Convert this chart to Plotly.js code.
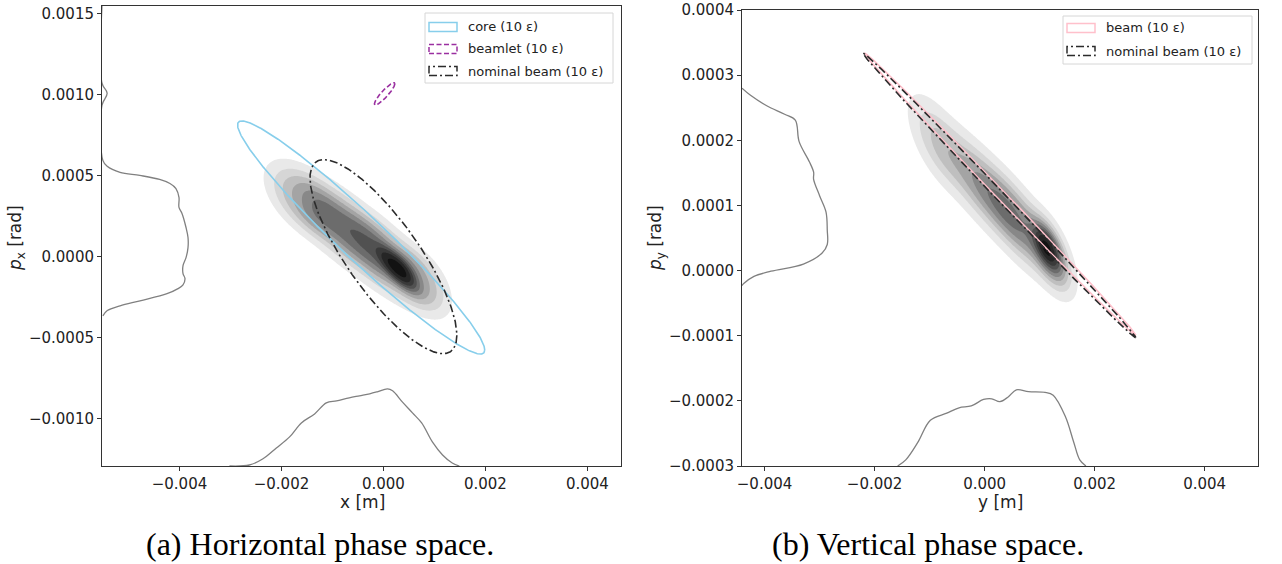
<!DOCTYPE html>
<html><head><meta charset="utf-8">
<script src="https://cdn.plot.ly/plotly-3.0.1.min.js"></script>
<style>html,body{margin:0;padding:0;background:#fff;}#chart{width:1282px;height:564px;}</style>
</head><body><div id="chart"></div>
<script>
// ================= DATA =================
// Ellipses (Twiss form): [centre, centre momentum, alpha, beta, rms emittance]; drawn at 10 x emittance
const emitFactor = 10;
const hCoreTwiss    = [-0.000437, 0.000118, 3.68, 12.83, 4.58e-8];
const hBeamletTwiss = [0.000024, 0.001006, -2.07, 6.67, 6.0e-10];
const hNominalTwiss = [0.0, 0.0, 1.383, 4.10, 5.06e-8];
const vBeamTwiss    = [0.000285, 0.000117, 21.5, 245, 2.48e-9];
const vNominalTwiss = [0.000268, 0.0001155, 21.82, 248, 2.48e-9];

// Density (KDE) read as lobes along the beam ridge:
// centre x, centre p, spread in x, local slope dp/dx, spread in p about the ridge, relative weight
const hDensCx    = [-0.00155, -0.000981, -0.000432, 0.000137, 0.000706, 0.000275];
const hDensCp    = [0.000347, 0.000223, 0.000093, -0.000031, -0.000145, -0.0000744];
const hDensSx    = [0.00052, 0.00055, 0.00055, 0.00055, 0.00042, 0.0003];
const hDensSlope = [-0.174, -0.205, -0.228, -0.237, -0.2, -0.26];
const hDensSq    = [0.00014, 0.000155, 0.000155, 0.00015, 0.00013, 0.00007];
const hDensW     = [0.55, 0.5, 0.55, 0.6, 0.5, 0.7];
const hDensShape = 1.5;

const vDensCx    = [-0.000902, -0.00041, 0.000135, 0.00068, 0.0012, 0.001153];
const vDensCp    = [0.0002, 0.000159, 0.0001145, 0.0000684, 0.0000262, 0.0000362];
const vDensSx    = [0.00032, 0.0005, 0.0005, 0.00048, 0.00024, 0.00018];
const vDensSlope = [-0.088, -0.088, -0.088, -0.088, -0.088, -0.088];
const vDensSq    = [0.000036, 0.000036, 0.000036, 0.000035, 0.00003, 0.00002];
const vDensW     = [0.2, 0.28, 0.38, 0.55, 0.7, 0.35];
const vDensShape = 1.2;

// Marginal profiles (relative density, 1 = peak)
const hxProfX = [-0.00302,-0.00263,-0.00237,-0.00210,-0.00184,-0.00161,-0.00135,-0.00112,-0.00092,-0.00067,-0.00047,-0.00027,-0.00012,0.00008,0.00018,0.00037,0.00057,0.00075,0.00096,0.00116,0.00135,0.00149];
const hxProfD = [0,0.013,0.09,0.234,0.377,0.558,0.675,0.818,0.844,0.883,0.909,0.935,0.961,1.0,0.974,0.831,0.688,0.558,0.312,0.143,0.039,0];
const hpProfP = [0.00155,0.001072,0.00101,0.000936,0.000595,0.000558,0.000521,0.000502,0.000477,0.000452,0.000421,0.000366,0.000304,0.000267,0.000180,0.000118,0.000056,-0.000006,-0.000056,-0.000105,-0.000136,-0.000174,-0.000198,-0.000229,-0.000273,-0.000304,-0.000335,-0.000366];
const hpProfD = [0,0,0.06,0,0.01,0.06,0.21,0.44,0.67,0.79,0.86,0.895,0.895,0.93,0.977,1.0,1.0,0.977,0.942,0.942,0.965,0.942,0.884,0.756,0.442,0.21,0.058,0.01];
const vyProfY = [-0.001581,-0.001433,-0.001209,-0.000986,-0.000688,-0.000465,-0.000242,-0.000019,0.000130,0.000279,0.000428,0.000577,0.000800,0.001098,0.001247,0.001470,0.001619,0.001730,0.001842];
const vyProfD = [0,0.08,0.316,0.60,0.693,0.764,0.788,0.873,0.882,0.844,0.906,1.0,0.976,0.967,0.929,0.646,0.316,0.08,0];
const vpProfP = [0.000280,0.000269,0.000253,0.000240,0.000231,0.000198,0.000167,0.000151,0.000140,0.000115,0.000090,0.000062,0.000040,0.000027,0.000010,-0.000001,-0.000009,-0.000020,-0.000023];
const vpProfD = [0,0.10,0.29,0.50,0.625,0.67,0.79,0.84,0.84,0.91,0.985,1.0,1.0,0.94,0.72,0.34,0.14,0.02,0];

// Axis ranges and ticks
const hxRange = [-0.00552, 0.00466];
const hpRange = [-0.001294, 0.001549];
const vyRange = [-0.00441, 0.00497];
const vpRange = [-0.0003, 0.0004];
const hxTicks = [-0.004, -0.002, 0, 0.002, 0.004];
const hpTicks = [-0.001, -0.0005, 0, 0.0005, 0.001, 0.0015];
const vyTicks = [-0.004, -0.002, 0, 0.002, 0.004];
const vpTicks = [-0.0003, -0.0002, -0.0001, 0, 0.0001, 0.0002, 0.0003, 0.0004];

const axisTitles = ['x [m]', '<i>p</i><sub>x</sub> [rad]', 'y [m]', '<i>p</i><sub>y</sub> [rad]'];
const hLegendLabels = ['core (10 \u03b5)', 'beamlet (10 \u03b5)', 'nominal beam (10 \u03b5)'];
const vLegendLabels = ['beam (10 \u03b5)', 'nominal beam (10 \u03b5)'];
const captions = ['(a) Horizontal phase space.', '(b) Vertical phase space.'];

// ================= HELPERS =================
const W = 1282, H = 564;
const PL = {x0:102, x1:621, y0:6, y1:466};
const PR = {x0:742, x1:1258, y0:10, y1:466};
const px = v => v / W;
const py = v => 1 - v / H;

function twissEllipse(t, n) {
  const [x0, p0, a, b, e] = t;
  const E = emitFactor * e;
  const xs = [], ps = [];
  for (let i = 0; i <= n; i++) {
    const th = 2 * Math.PI * i / n, c = Math.cos(th), s = Math.sin(th);
    xs.push(x0 + Math.sqrt(E * b) * c);
    ps.push(p0 - Math.sqrt(E / b) * (a * c + s));
  }
  return {x: xs, y: ps};
}

function densityGrid(cx, cp, sx, slope, sq, w, shape, xr, yr, nx, ny) {
  const xs = [], ys = [], z = [];
  for (let i = 0; i < nx; i++) xs.push(xr[0] + (xr[1] - xr[0]) * i / (nx - 1));
  for (let j = 0; j < ny; j++) ys.push(yr[0] + (yr[1] - yr[0]) * j / (ny - 1));
  let mx = 0;
  for (let j = 0; j < ny; j++) {
    const row = [];
    for (let i = 0; i < nx; i++) {
      let v = 0;
      for (let k = 0; k < cx.length; k++) {
        const ddx = xs[i] - cx[k];
        const u = ddx / sx[k], q = (ys[j] - cp[k] - slope[k] * ddx) / sq[k];
        v += w[k] * Math.exp(-0.5 * Math.pow(u * u + q * q, shape));
      }
      row.push(v); if (v > mx) mx = v;
    }
    z.push(row);
  }
  return {x: xs, y: ys, z: z.map(r => r.map(v => v / mx))};
}

const greyScale = [[0,'rgba(255,255,255,0)'],[0.1,'#e9e9e9'],[0.2,'#d6d6d6'],[0.3,'#bfbfbf'],[0.4,'#a4a4a4'],
  [0.5,'#888888'],[0.6,'#6c6c6c'],[0.7,'#515151'],[0.8,'#3a3a3a'],[0.9,'#262626'],[1.0,'#121212']];

function contourTrace(g, xa, ya) {
  return {type:'contour', x:g.x, y:g.y, z:g.z, xaxis:xa, yaxis:ya, autocontour:false,
    contours:{start:0.05, end:0.95, size:0.1, coloring:'fill', showlines:false},
    line:{width:0}, colorscale:greyScale, showscale:false, hoverinfo:'skip'};
}

const traces = [];
traces.push(contourTrace(densityGrid(hDensCx,hDensCp,hDensSx,hDensSlope,hDensSq,hDensW,hDensShape,[-0.0036,0.0025],[-0.0008,0.0009],240,240),'x','y'));
traces.push(contourTrace(densityGrid(vDensCx,vDensCp,vDensSx,vDensSlope,vDensSq,vDensW,vDensShape,[-0.0025,0.0025],[-0.00008,0.00032],280,280),'x2','y2'));

const profLine = {color:'#808080', width:1.3, shape:'spline'};
const hxScale = 0.000477, hpScale = 0.001687, vyScale = 0.000117, vpScale = 0.00155;
traces.push({type:'scatter', mode:'lines', x:hxProfX, y:hxProfD.map(d => hpRange[0] + d*hxScale), line:profLine, xaxis:'x', yaxis:'y', hoverinfo:'skip'});
traces.push({type:'scatter', mode:'lines', x:hpProfD.map(d => hxRange[0] + d*hpScale), y:hpProfP, line:profLine, xaxis:'x', yaxis:'y', hoverinfo:'skip'});
traces.push({type:'scatter', mode:'lines', x:vyProfY, y:vyProfD.map(d => vpRange[0] + d*vyScale), line:profLine, xaxis:'x2', yaxis:'y2', hoverinfo:'skip'});
traces.push({type:'scatter', mode:'lines', x:vpProfD.map(d => vyRange[0] + d*vpScale), y:vpProfP, line:profLine, xaxis:'x2', yaxis:'y2', hoverinfo:'skip'});

const DASHDOT = '8px,3px,2px,3px', DASH = '5px,2.5px';
const cCore = '#87ceeb', cBeamlet = '#9a2fa0', cNom = '#2b2b2b', cPink = '#ffc0cb';
function ellTrace(t, color, dash, xa, ya, w) {
  const e = twissEllipse(t, 400);
  return {type:'scatter', mode:'lines', x:e.x, y:e.y, line:{color:color, width:w||1.6, dash:dash}, xaxis:xa, yaxis:ya, hoverinfo:'skip'};
}
traces.push(ellTrace(hCoreTwiss, cCore, 'solid', 'x', 'y'));
traces.push(ellTrace(hBeamletTwiss, cBeamlet, DASH, 'x', 'y'));
traces.push(ellTrace(hNominalTwiss, cNom, DASHDOT, 'x', 'y'));
traces.push(ellTrace(vBeamTwiss, cPink, 'solid', 'x2', 'y2'));
traces.push(ellTrace(vNominalTwiss, cNom, DASHDOT, 'x2', 'y2'));

// ================= LAYOUT =================
const tickFont = {family:'DejaVu Sans', size:15, color:'#222'};
function axis(dom, range, ticks, fmt, anchor) {
  return {domain:dom, range:range, tickvals:ticks, tickformat:fmt, anchor:anchor, showgrid:false, zeroline:false,
    showline:true, mirror:true, linecolor:'#333', linewidth:1, ticks:'outside', ticklen:4, tickcolor:'#333',
    tickfont:tickFont};
}

const shapes = [], annotations = [];
function legend(box, items) {
  shapes.push({type:'rect', xref:'paper', yref:'paper', x0:px(box.x0), x1:px(box.x1), y0:py(box.y1), y1:py(box.y0),
    line:{color:'#d6d6d6', width:1}, fillcolor:'rgba(255,255,255,0.85)', layer:'above'});
  items.forEach(it => {
    shapes.push({type:'rect', xref:'paper', yref:'paper', x0:px(box.hx0), x1:px(box.hx0+28), y0:py(it.y+4.5), y1:py(it.y-4.5),
      line:{color:it.color, width:1.5, dash:it.dash}, fillcolor:'rgba(0,0,0,0)', layer:'above'});
    annotations.push({xref:'paper', yref:'paper', x:px(box.tx), y:py(it.y), xanchor:'left', yanchor:'middle', showarrow:false,
      text:it.label, font:{family:'DejaVu Sans', size:13, color:'#222'}});
  });
}
legend({x0:425, x1:613, y0:13, y1:83, hx0:429, tx:466}, [
  {y:27, label:hLegendLabels[0], color:cCore, dash:'solid'},
  {y:49, label:hLegendLabels[1], color:cBeamlet, dash:DASH},
  {y:71, label:hLegendLabels[2], color:cNom, dash:DASHDOT}]);
legend({x0:1063, x1:1252, y0:16, y1:64, hx0:1067, tx:1104}, [
  {y:28, label:vLegendLabels[0], color:cPink, dash:'solid'},
  {y:51, label:vLegendLabels[1], color:cNom, dash:DASHDOT}]);

// axis titles
const titleFont = {family:'DejaVu Sans', size:17, color:'#222'};
annotations.push({xref:'paper', yref:'paper', x:px(362), y:py(502), xanchor:'center', yanchor:'middle', showarrow:false, text:axisTitles[0], font:titleFont});
annotations.push({xref:'paper', yref:'paper', x:px(16), y:py(238), xanchor:'center', yanchor:'middle', showarrow:false, text:axisTitles[1], font:titleFont, textangle:-90});
annotations.push({xref:'paper', yref:'paper', x:px(1000), y:py(502), xanchor:'center', yanchor:'middle', showarrow:false, text:axisTitles[2], font:titleFont});
annotations.push({xref:'paper', yref:'paper', x:px(656), y:py(238), xanchor:'center', yanchor:'middle', showarrow:false, text:axisTitles[3], font:titleFont, textangle:-90});

annotations.push({xref:'paper', yref:'paper', x:px(320), y:py(544), xanchor:'center', yanchor:'middle', showarrow:false,
  text:captions[0], font:{family:'Liberation Serif', size:32, color:'#000'}});
annotations.push({xref:'paper', yref:'paper', x:px(928), y:py(544), xanchor:'center', yanchor:'middle', showarrow:false,
  text:captions[1], font:{family:'Liberation Serif', size:32, color:'#000'}});

const layout = {
  width:W, height:H, margin:{l:0, r:0, t:0, b:0}, paper_bgcolor:'#fff', plot_bgcolor:'#fff', showlegend:false,
  xaxis: axis([px(PL.x0), px(PL.x1)], hxRange, hxTicks, '.3f', 'y'),
  yaxis: axis([py(PL.y1), py(PL.y0)], hpRange, hpTicks, '.4f', 'x'),
  xaxis2: axis([px(PR.x0), px(PR.x1)], vyRange, vyTicks, '.3f', 'y2'),
  yaxis2: axis([py(PR.y1), py(PR.y0)], vpRange, vpTicks, '.4f', 'x2'),
  shapes: shapes, annotations: annotations
};
Plotly.newPlot('chart', traces, layout, {staticPlot:true, displayModeBar:false});
</script></body></html>
